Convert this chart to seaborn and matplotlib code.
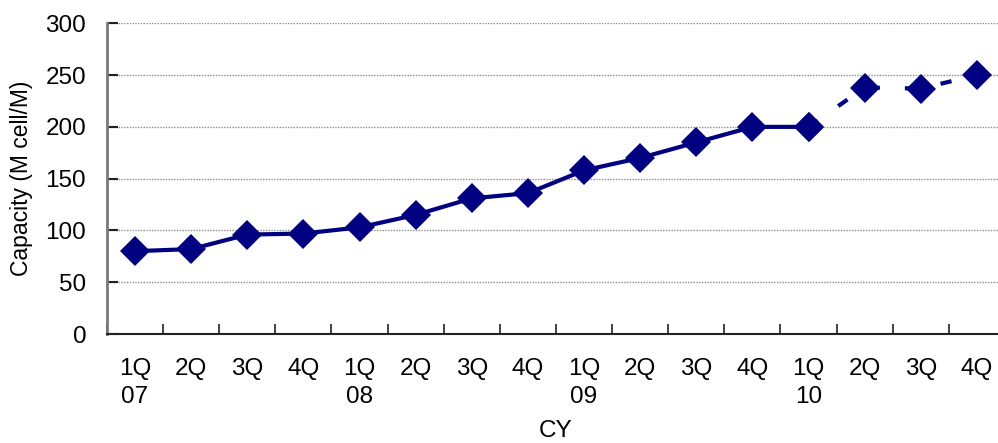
import matplotlib
matplotlib.use("Agg")
import matplotlib.pyplot as plt
import seaborn as sns
import pandas as pd
import numpy as np

# Quarterly capacity, CY2007 - CY2010 (last three quarters are planned)
quarters = ["1Q", "2Q", "3Q", "4Q"] * 4
years = ["07", "", "", "", "08", "", "", "", "09", "", "", "", "10", "", "", ""]
capacity = [80, 82, 96, 97, 103, 115, 131, 136, 158, 170, 185, 200, 200, 238, 237, 250]
actual_count = 13  # 1Q07 .. 1Q10 are actual, the rest is outlook

tick_labels = [q + ("\n" + y if y else "") for q, y in zip(quarters, years)]

sns.set_theme(style="white")
plt.rcParams["font.family"] = ["Liberation Sans", "DejaVu Sans"]
plt.rcParams["text.color"] = "black"
plt.rcParams["axes.labelcolor"] = "black"
plt.rcParams["xtick.labelcolor"] = "black"
plt.rcParams["ytick.labelcolor"] = "black"

pos = np.arange(len(capacity))
df = pd.DataFrame({"pos": pos, "capacity": capacity})
df_actual = df.iloc[:actual_count]
df_plan = df.iloc[actual_count - 1:]

fig = plt.figure(figsize=(9.98, 4.43), dpi=100)
ax = fig.add_axes([0.1072, 0.246, 0.8998, 0.7014])

navy = "#000080"
sns.lineplot(data=df_plan, x="pos", y="capacity", ax=ax, color=navy, lw=3,
             dashes=False, linestyle=(0, (2.7, 6.0)), marker="D", markersize=15,
             markeredgecolor=navy, markerfacecolor=navy, markeredgewidth=0)
sns.lineplot(data=df_actual, x="pos", y="capacity", ax=ax, color=navy, lw=3,
             marker="D", markersize=15, markeredgecolor=navy,
             markerfacecolor=navy, markeredgewidth=0)

ax.set_xlim(-0.5, len(capacity) - 0.5)
ax.set_ylim(0, 300)
ax.set_yticks(range(0, 301, 50))

ax.set_xticks(pos)
ax.set_xticklabels(tick_labels, fontsize=17.5, linespacing=1.35, va="top")
ax.set_xticks(np.arange(-0.5, len(capacity), 1.0), minor=True)
ax.tick_params(axis="x", which="major", length=0, pad=17, labelcolor="black")
ax.tick_params(axis="x", which="minor", direction="in", length=7, width=1.2,
               color="#222222", bottom=True)
ax.tick_params(axis="y", direction="in", length=8, width=1.5, pad=15,
               labelsize=17.5, color="#222222", left=True, labelcolor="black")

ax.yaxis.grid(True, color="#8c8c8c", linestyle=(0, (1, 1)), lw=1)
ax.set_axisbelow(True)

for side in ("top", "right"):
    ax.spines[side].set_visible(False)
ax.spines["left"].set_color("#7a7a7a")
ax.spines["left"].set_linewidth(2)
ax.spines["bottom"].set_color("#222222")
ax.spines["bottom"].set_linewidth(1.5)

ax.set_ylabel("Capacity (M cell/M)", fontsize=16.5, color="black")
ax.set_xlabel("CY", fontsize=17.5, color="black")
ax.yaxis.set_label_coords(-0.0824, 0.5)
ax.xaxis.set_label_coords(0.5, -0.278)

fig.savefig("out.png", dpi=100)
